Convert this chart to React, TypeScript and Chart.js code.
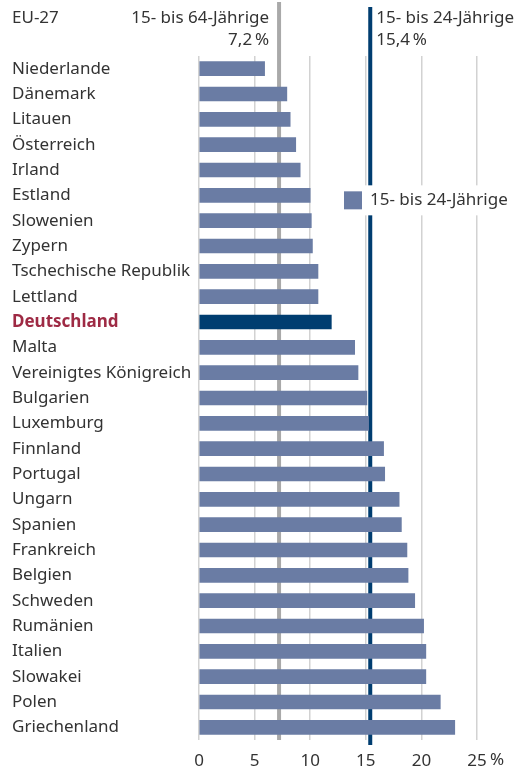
import React, { useEffect, useRef } from "react";
import { Chart, registerables } from "chart.js";

Chart.register(...registerables);

const categories = [
  "Niederlande", "Dänemark", "Litauen", "Österreich", "Irland", "Estland",
  "Slowenien", "Zypern", "Tschechische Republik", "Lettland", "Deutschland",
  "Malta", "Vereinigtes Königreich", "Bulgarien", "Luxemburg", "Finnland",
  "Portugal", "Ungarn", "Spanien", "Frankreich", "Belgien", "Schweden",
  "Rumänien", "Italien", "Slowakei", "Polen", "Griechenland",
];

const youthRates = [
  5.9, 7.9, 8.2, 8.7, 9.1, 10.0, 10.1, 10.2, 10.7, 10.7, 11.9,
  14.0, 14.3, 15.1, 15.25, 16.6, 16.7, 18.0, 18.2, 18.7, 18.8, 19.4,
  20.2, 20.4, 20.4, 21.7, 23.0,
];

const highlightCategory = "Deutschland";
const xTicks = [0, 5, 10, 15, 20, 25];
const xUnit = "%";

const euLabel = "EU-27";
const euAllAgesLabel = "15- bis 64-Jährige";
const euAllAgesValue = 7.2;
const euAllAgesText = "7,2\u2009%";
const euYouthLabel = "15- bis 24-Jährige";
const euYouthValue = 15.4;
const euYouthText = "15,4\u2009%";
const legendLabel = "15- bis 24-Jährige";

const FONT = "'Noto Sans', sans-serif";
const FS = 17;
const BAR = "#6a7ca4";
const NAVY = "#003d70";
const GREY = "#a9a9a9";
const TEXT = "#333333";
const RED = "#9e2a44";

const overlayPlugin = {
  id: "overlay",
  beforeDatasetsDraw(chart: any) {
    const { ctx, scales } = chart;
    const x = scales.x;
    const ca = chart.chartArea;
    ctx.save();
    ctx.fillStyle = GREY;
    const gx = x.getPixelForValue(euAllAgesValue);
    ctx.fillRect(gx - 2, 2, 4, ca.bottom - 2);
    ctx.fillStyle = NAVY;
    const nx = x.getPixelForValue(euYouthValue);
    ctx.fillRect(nx - 2, 7, 4, ca.bottom + 5 - 7);
    ctx.restore();
  },
  afterDatasetsDraw(chart: any) {
    const { ctx, scales } = chart;
    const x = scales.x;
    const ca = chart.chartArea;
    ctx.save();
    ctx.font = `${FS}px ${FONT}`;
    ctx.fillStyle = TEXT;
    ctx.textBaseline = "alphabetic";
    ctx.textAlign = "left";
    ctx.fillText(euLabel, 12, 23);
    const gx = x.getPixelForValue(euAllAgesValue);
    ctx.textAlign = "right";
    ctx.fillText(euAllAgesLabel, gx - 10, 23);
    ctx.fillText(euAllAgesText, gx - 10, 45);
    const nx = x.getPixelForValue(euYouthValue);
    ctx.textAlign = "left";
    ctx.fillText(euYouthLabel, nx + 6, 23);
    ctx.fillText(euYouthText, nx + 6, 45);

    // legend
    const ly = chart.scales.y.getPixelForValue(5) + 5;
    ctx.fillStyle = "#ffffff";
    ctx.fillRect(364, ly - 15, 152, 30);
    ctx.fillStyle = BAR;
    ctx.fillRect(344, ly - 9, 18, 18);
    ctx.fillStyle = TEXT;
    ctx.textBaseline = "middle";
    ctx.fillText(legendLabel, 370, ly);

    // unit after last tick
    const px = x.getPixelForValue(xTicks[xTicks.length - 1]);
    ctx.textBaseline = "middle";
    ctx.fillText(xUnit, px + 13, ca.bottom + 20);
    ctx.restore();
  },
};

export default function App() {
  const ref = useRef<HTMLCanvasElement | null>(null);
  useEffect(() => {
    if (!ref.current) return;
    const chart = new Chart(ref.current, {
      type: "bar",
      data: {
        labels: categories,
        datasets: [
          {
            label: legendLabel,
            data: youthRates,
            backgroundColor: categories.map((c) => (c === highlightCategory ? NAVY : BAR)),
            barThickness: 14,
            borderWidth: 0,
          },
        ],
      },
      options: {
        indexAxis: "y",
        responsive: false,
        animation: false,
        layout: { padding: { left: 12, top: 56, right: 49, bottom: 0 } },
        plugins: { legend: { display: false }, tooltip: { enabled: false } },
        scales: {
          x: {
            min: 0,
            max: 25,
            afterBuildTicks: (s: any) => {
              s.ticks = xTicks.map((v) => ({ value: v }));
            },
            afterFit: (s: any) => {
              s.height = 28;
            },
            grid: { color: "#d2d2d2", lineWidth: 1.5, drawTicks: false },
            border: { display: false },
            ticks: { font: { family: FONT, size: FS }, color: TEXT, padding: 11 },
          },
          y: {
            afterFit: (s: any) => {
              s.width = 187;
            },
            grid: { display: false },
            border: { display: false },
            ticks: {
              crossAlign: "far",
              padding: 0,
              autoSkip: false,
              color: (c: any) => (categories[c.index] === highlightCategory ? RED : TEXT),
              font: (c: any) => ({
                family: FONT,
                size: FS,
                weight: categories[c.index] === highlightCategory ? "bold" : "normal",
              }),
            },
          },
        },
      },
      plugins: [overlayPlugin],
    } as any);
    return () => chart.destroy();
  }, []);
  return (
    <div style={{ position: "absolute", left: 0, top: 0, width: 526, height: 768, background: "#fff" }}>
      <canvas ref={ref} width={526} height={768} style={{ display: "block" }} />
    </div>
  );
}
